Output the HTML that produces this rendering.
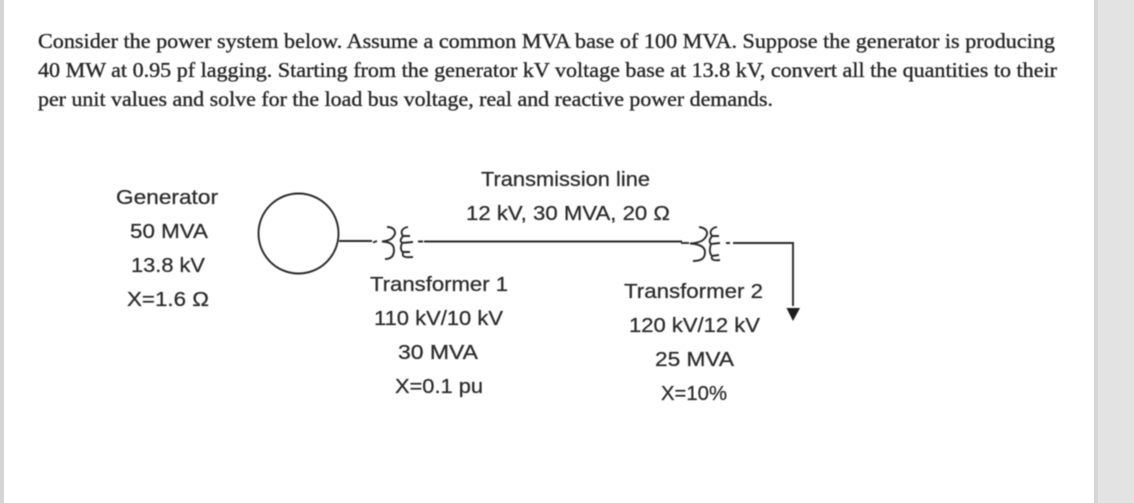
<!DOCTYPE html>
<html>
<head>
<meta charset="utf-8">
<style>
html,body{margin:0;padding:0;width:1134px;height:503px;overflow:hidden;background:#fff}
svg{display:block}
.t{font-family:"Liberation Serif",serif;font-size:21.500px;fill:#262626;stroke:#262626;stroke-width:.35px}
.s{font-family:"Liberation Sans",sans-serif;font-size:20.500px;fill:#2a2a2a;stroke:#2a2a2a;stroke-width:.25px;text-anchor:start}
.l{fill:none;stroke:#2a2a2a;stroke-width:1.9}
</style>
</head>
<body>
<svg width="1134" height="503" viewBox="0 0 1134 503" xmlns="http://www.w3.org/2000/svg">
<defs>
<filter id="b" x="-2%" y="-2%" width="104%" height="104%"><feGaussianBlur stdDeviation="0.45"/></filter>
</defs>
<rect width="1134" height="503" fill="#fff"/>
<rect x="0" y="0" width="4" height="503" fill="#d4d4d4"/>
<rect x="1094" y="0" width="40" height="503" fill="#e3e3e3"/>
<rect x="1094" y="0" width="4" height="503" fill="#d6d6d6"/>
<g filter="url(#b)">
<text class="t" x="38" y="48" textLength="1017" lengthAdjust="spacingAndGlyphs">Consider the power system below. Assume a common MVA base of 100 MVA. Suppose the generator is producing</text>
<text class="t" x="38" y="77" textLength="1019" lengthAdjust="spacingAndGlyphs">40 MW at 0.95 pf lagging. Starting from the generator kV voltage base at 13.8 kV, convert all the quantities to their</text>
<text class="t" x="38" y="106" textLength="735" lengthAdjust="spacingAndGlyphs">per unit values and solve for the load bus voltage, real and reactive power demands.</text>

<text class="s" x="116" y="204" textLength="102" lengthAdjust="spacingAndGlyphs">Generator</text>
<text class="s" x="130" y="238" textLength="78" lengthAdjust="spacingAndGlyphs">50 MVA</text>
<text class="s" x="131" y="272" textLength="74" lengthAdjust="spacingAndGlyphs">13.8 kV</text>
<text class="s" x="127" y="306" textLength="82" lengthAdjust="spacingAndGlyphs">X=1.6 Ω</text>

<text class="s" x="481" y="186" textLength="169" lengthAdjust="spacingAndGlyphs">Transmission line</text>
<text class="s" x="466" y="220" textLength="204" lengthAdjust="spacingAndGlyphs">12 kV, 30 MVA, 20 Ω</text>

<text class="s" x="370" y="291" textLength="138" lengthAdjust="spacingAndGlyphs">Transformer 1</text>
<text class="s" x="374" y="325" textLength="129" lengthAdjust="spacingAndGlyphs">110 kV/10 kV</text>
<text class="s" x="398" y="359" textLength="80" lengthAdjust="spacingAndGlyphs">30 MVA</text>
<text class="s" x="395" y="393" textLength="88" lengthAdjust="spacingAndGlyphs">X=0.1 pu</text>

<text class="s" x="624" y="298" textLength="139" lengthAdjust="spacingAndGlyphs">Transformer 2</text>
<text class="s" x="629" y="332" textLength="131" lengthAdjust="spacingAndGlyphs">120 kV/12 kV</text>
<text class="s" x="655" y="366" textLength="79" lengthAdjust="spacingAndGlyphs">25 MVA</text>
<text class="s" x="661" y="400" textLength="66" lengthAdjust="spacingAndGlyphs">X=10%</text>

<circle class="l" cx="298.500" cy="233.500" r="40"/>
<path class="l" d="M339 241H372M373 242.500L377 241"/>
<path class="l" d="M387 227C395 227 397 233 393 237C391 240 386 241 382 241.500C388 242 394 243 394 250C394 256 391 259 385 259"/>
<path class="l" d="M408 227C402 228 400 232 403 236L410 236M403 236C400 240 400 241 402 243L413 242M402 243C400 248 401 251 403 252L410 252M403 252C402 256 403 258 413 257"/>
<path class="l" d="M418 241.500H423M424 241.500H682"/>

<path class="l" d="M681 243H689"/>
<path class="l" d="M699 227C707 228 709 233 705 238C703 241 698 243 690 243.500C698 244 705 246 705 252C705 258 702 261 693 261"/>
<path class="l" d="M717 227C711 228 709 232 712 236L719 236M712 236C709 240 709 242 711 244L720 243M711 244C709 250 710 254 712 256L719 255M712 256C711 259 712 261 720 260"/>
<path class="l" d="M726 243H730M733 243H793V306"/>
<path d="M786.500 308H800L793 321Z" fill="#1c1c1c"/>
</g>
</svg>
</body>
</html>
